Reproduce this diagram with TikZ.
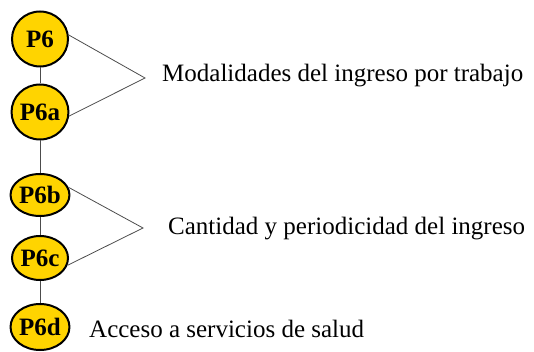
\documentclass[tikz,border=0pt]{standalone}
\usepackage{fontspec}
\newfontfamily\tnr{LiberationSerif}[Extension=.ttf, UprightFont=*-Regular, BoldFont=*-Bold]
\usetikzlibrary{shapes.geometric}
\definecolor{pgold}{HTML}{FFD400}
\begin{document}
\begin{tikzpicture}[x=1pt,y=-1pt,
  pnode/.style={ellipse, draw=black, line width=2pt, fill=pgold, inner sep=0pt, minimum width=56pt,
    font=\tnr\fontsize{25}{25}\selectfont\bfseries},
  conn/.style={draw=black!70, line width=0.8pt},
  lbl/.style={anchor=base west, inner sep=0pt, font=\tnr\fontsize{25}{28}\selectfont}]
\useasboundingbox (0,0) rectangle (534,352);
\node[pnode, minimum height=55pt] (p6) at (40,39) {P6};
\node[pnode, minimum height=55pt] (p6a) at (40,112) {P6a};
\node[pnode, minimum height=42pt] (p6b) at (40,195) {P6b};
\node[pnode, minimum height=44pt] (p6c) at (40,258) {P6c};
\node[pnode, minimum height=46pt] (p6d) at (40,327) {P6d};
\coordinate (a1) at (145,78);
\coordinate (a2) at (143,228);
\draw[conn] (p6.south) -- (p6a.north);
\draw[conn] (p6a.south) -- (p6b.north);
\draw[conn] (p6b.south) -- (p6c.north);
\draw[conn] (p6c.south) -- (p6d.north);
\draw[conn] (p6.8) -- (a1) -- (p6a.-8);
\draw[conn] (p6b.15) -- (a2) -- (p6c.-15);
\node[lbl] (t1) at (162,82) {Modalidades del ingreso por trabajo};
\node[lbl] (t2) at (168,234) {Cantidad y periodicidad del ingreso};
\node[lbl] (t3) at (89,337) {Acceso a servicios de salud};
\end{tikzpicture}
\end{document}
